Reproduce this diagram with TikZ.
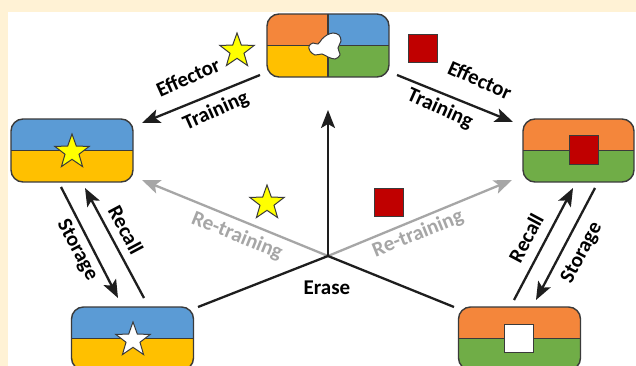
\documentclass[tikz,border=0pt]{standalone}
\usepackage{fontspec}
\setmainfont{Carlito}
\usetikzlibrary{arrows.meta,shapes.geometric}
\definecolor{cream}{HTML}{FFF2D5}
\definecolor{orng}{HTML}{F4863B}
\definecolor{blu}{HTML}{5B9BD5}
\definecolor{yel}{HTML}{FFC000}
\definecolor{grn}{HTML}{70AD47}
\definecolor{redc}{HTML}{C00000}
\definecolor{staryel}{HTML}{FFFF00}
\definecolor{grayc}{HTML}{A6A6A6}
\definecolor{dark}{HTML}{1E1E1E}
\definecolor{boxline}{HTML}{3A3A3A}
\begin{document}
\begin{tikzpicture}[x=1pt,y=-1pt,
  box/.style={draw=boxline, line width=1.4pt, rounded corners=12pt, minimum width=122pt, minimum height=63pt, inner sep=0pt},
  twotone/.style 2 args={path picture={
    \fill[#1, sharp corners] (path picture bounding box.north west) rectangle (path picture bounding box.east);
    \fill[#2, sharp corners] (path picture bounding box.west) rectangle (path picture bounding box.south east);
    \draw[boxline, line width=1.4pt] (path picture bounding box.west) -- (path picture bounding box.east);}},
  fourtone/.style={path picture={
    \fill[orng, sharp corners] (path picture bounding box.north west) rectangle (path picture bounding box.center);
    \fill[blu, sharp corners] (path picture bounding box.north) rectangle (path picture bounding box.east);
    \fill[yel, sharp corners] (path picture bounding box.west) rectangle (path picture bounding box.south);
    \fill[grn, sharp corners] (path picture bounding box.center) rectangle (path picture bounding box.south east);
    \draw[boxline, line width=1.4pt] (path picture bounding box.west) -- (path picture bounding box.east);
    \draw[boxline, line width=1.4pt] (path picture bounding box.north) -- (path picture bounding box.south);}},
  tip/.style={-{Stealth[length=18pt,width=14pt,inset=4pt]}},
  arr/.style={draw=dark, line width=2.3pt, tip},
  plain/.style={draw=dark, line width=2.3pt},
  garr/.style={draw=grayc, line width=2.3pt, tip},
  lbl/.style={font=\bfseries\fontsize{21}{25}\selectfont, text=black, inner sep=0pt},
  glbl/.style={lbl, text=grayc},
  starshape/.style={star, star points=5, star point ratio=2.45, minimum size=36pt, inner sep=0pt, draw=boxline, line width=1pt, fill=#1},
  sq/.style={rectangle, minimum width=29pt, minimum height=28pt, inner sep=0pt, draw=boxline, line width=1pt, fill=#1}
]
\useasboundingbox (0,0) rectangle (636,366);
\clip (0,0) rectangle (636,366);
\fill[cream] (0,0) rectangle (636,366);
\fill[white] (8,12) rectangle (636,366);

% boxes
\node[box, fourtone] (T) at (328,45.5) {};
\draw[boxline, line width=1pt, fill=white] plot[smooth cycle, tension=0.55] coordinates {
  (309,46) (313,43) (318,44) (322,39) (327,35) (333,33) (339,35) (341,41)
  (338,48) (340,55) (335,59) (328,57) (322,54) (315,55) (310,51)};
\node[box, twotone={blu}{yel}] (L) at (72,150.5) {};
\node[box, twotone={blu}{yel}] (BL) at (132.5,338.5) {};
\node[box, minimum width=111pt, twotone={orng}{grn}] (R) at (578.5,150.5) {};
\node[box, twotone={orng}{grn}] (BR) at (519.5,338.5) {};

% symbols
\node[starshape=staryel] (sL) at (72,152) {};
\node[starshape=white] (sBL) at (133,340) {};
\node[sq=redc] (qR) at (584,150) {};
\node[sq=white] (qBR) at (518.5,338) {};
\node[starshape=staryel] (sT) at (237,51) {};
\node[sq=redc] (qT) at (422.5,49) {};
\node[starshape=staryel] (sM) at (267,203) {};
\node[sq=redc] (qM) at (388.5,202.5) {};

% coordinates
\coordinate (o) at (328,256);
\coordinate (eLs) at (260,75);
\coordinate (eLe) at (142,123);
\coordinate (eRs) at (397,75);
\coordinate (eRe) at (513,122);
\coordinate (up) at (328,110);
\coordinate (gL) at (142,180);
\coordinate (gR) at (512,180);
\coordinate (bL) at (198,307);
\coordinate (bR) at (454,307);
\coordinate (sLs) at (61,187);
\coordinate (sLe) at (118,298);
\coordinate (rLs) at (144,298);
\coordinate (rLe) at (85,188);
\coordinate (rRs) at (514,300);
\coordinate (rRe) at (573,188);
\coordinate (sRs) at (595,188);
\coordinate (sRe) at (536,300);

% connectors
\draw[arr] (eLs) -- (eLe);
\draw[arr] (eRs) -- (eRe);
\draw[garr] (o) -- (gL);
\draw[garr] (o) -- (gR);
\draw[arr] (o) -- (up);
\draw[plain] (o) -- (bL);
\draw[plain] (o) -- (bR);
\draw[arr] (sLs) -- (sLe);
\draw[arr] (rLs) -- (rLe);
\draw[arr] (rRs) -- (rRe);
\draw[arr] (sRs) -- (sRe);

% labels
\node[lbl, rotate=24] (t1) at (188,77) {Effector};
\node[lbl, rotate=24] (t2) at (216,111) {Training};
\node[lbl, rotate=-24] (t3) at (480,80) {Effector};
\node[lbl, rotate=-24] (t4) at (440,109) {Training};
\node[glbl, rotate=-22] (t5) at (237,236) {Re-training};
\node[glbl, rotate=22] (t6) at (418,234) {Re-training};
\node[lbl] (t7) at (327,288) {Erase};
\node[lbl, rotate=-62] (t8) at (77,250) {Storage};
\node[lbl, rotate=-62] (t9) at (126,230) {Recall};
\node[lbl, rotate=62] (t10) at (526,238) {Recall};
\node[lbl, rotate=62] (t11) at (582,253) {Storage};
\end{tikzpicture}
\end{document}
